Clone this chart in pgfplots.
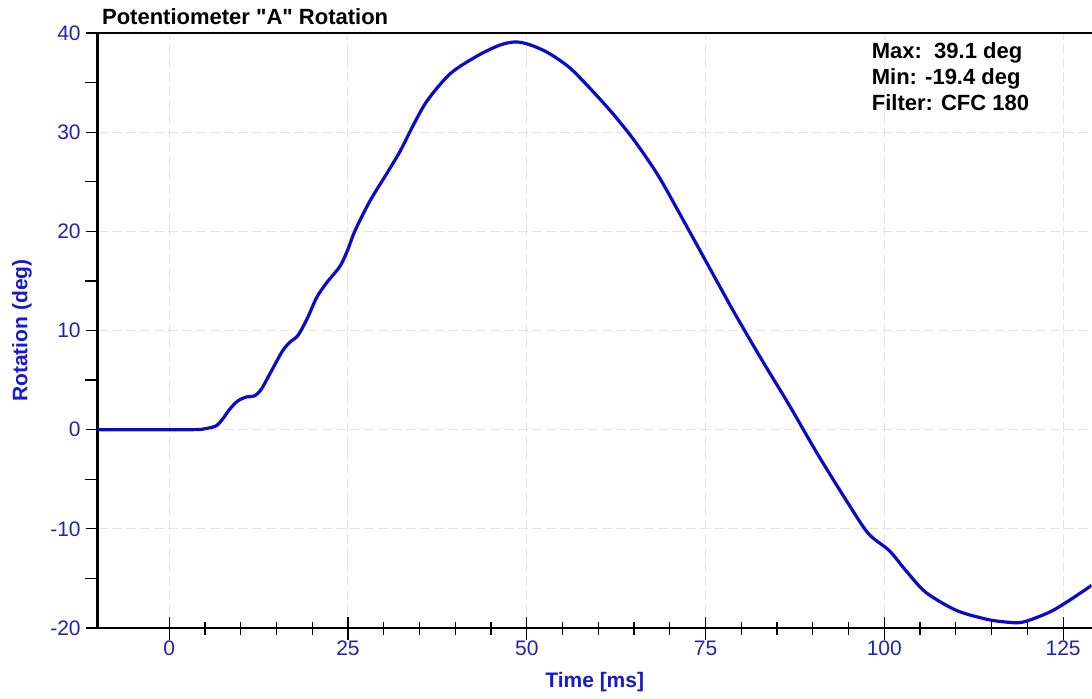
\documentclass[border=0pt]{standalone}
\usepackage{fontspec}
\setmainfont{Liberation Sans}
\usepackage{pgfplots}
\pgfplotsset{compat=1.18}

\definecolor{ticktxt}{RGB}{35,35,170}
\definecolor{labtxt}{RGB}{25,25,205}
\definecolor{curve}{RGB}{10,10,200}

\pgfplotsset{
  frame/.style={
    scale only axis,
    width=497pt,
    height=297.5pt,
    xmin=-10, xmax=129,
    ymin=-20, ymax=40,
  },
}

\begin{document}
\begin{tikzpicture}
  \path[use as bounding box] (-48.85pt,-35pt) rectangle (497.15pt,314pt);
  \begin{axis}[
      frame,
      axis x line*=box,
      axis y line*=left,
      axis line style={line width=1.3pt, black},
      xtick={0,25,...,125},
      ytick={-20,-10,...,40},
      minor x tick num=4,
      minor y tick num=1,
      xtick pos=bottom,
      ytick pos=left,
      xtick align=center,
      ytick align=outside,
      major tick length=6pt,
      minor tick length=6.5pt,
      tick style={black, line width=0.6pt},
      grid=major,
      grid style={black!10, dash pattern=on 5pt off 2pt, line width=0.5pt},
      /pgf/number format/assume math mode=true,
      tick label style={font=\fontsize{10.5}{12}\selectfont, text=ticktxt},
      xticklabel style={yshift=0pt},
      yticklabel style={xshift=1pt},
      every axis x label/.style={at={(axis description cs:0.5,-0.0992)}, anchor=base},
      every axis y label/.style={at={(axis description cs:-0.0762,0.5)}, rotate=90, anchor=center},
      xlabel={Time [ms]},
      ylabel={Rotation (deg)},
      label style={font=\bfseries\fontsize{10.5}{12}\selectfont, text=labtxt},
      title={Potentiometer \textquotedbl A\textquotedbl\ Rotation},
      every axis title shift=0pt,
      title style={at={(axis description cs:0,1)}, anchor=base west, inner sep=0pt, xshift=2pt, yshift=4.5pt, font=\bfseries\fontsize{11}{13}\selectfont},
    ]

    \addplot[color=curve, line width=1.6pt, line join=round, smooth, tension=0.5]
    coordinates {
        (-10,0) (3,0) (5,0.1) (6.6,0.4) (7.5,1.1) (8.5,2.1) (9.6,2.9)
        (10.8,3.3) (11.9,3.4) (12.9,4.1) (14.2,5.8) (15.9,8.0) (17,8.9)
        (18,9.5) (19.3,11.2) (20.6,13.3) (22,14.8) (23.9,16.5) (25,18.2)
        (26,20.1) (28.1,23.1) (30.4,25.8) (32.3,28.1) (34.2,30.8) (36.1,33.2)
        (39.3,35.9) (43.1,37.7) (46.3,38.8) (48.5,39.1) (50.5,38.8) (53,38.0)
        (56,36.5) (59,34.3) (62,31.9) (65.1,29.1) (68.4,25.6) (71.6,21.5)
        (75.8,16) (79.1,11.7) (82.9,7) (86.6,2.6) (90.7,-2.5) (95,-7.5)
        (97.8,-10.5) (100.7,-12.2) (103,-14.2) (105.8,-16.4) (110,-18.2)
        (114.2,-19.1) (117,-19.4) (119.4,-19.4) (123.1,-18.4) (125.9,-17.2)
        (129,-15.7)
      };

    \node[anchor=base west, inner sep=0pt, font=\bfseries\fontsize{11}{13}\selectfont] at (axis cs:98.2,37.4) {Max:\ \ 39.1 deg};
    \node[anchor=base west, inner sep=0pt, font=\bfseries\fontsize{11}{13}\selectfont] at (axis cs:98.2,34.8) {Min: -19.4 deg};
    \node[anchor=base west, inner sep=0pt, font=\bfseries\fontsize{11}{13}\selectfont] at (axis cs:98.2,32.2) {Filter: CFC 180};
  \end{axis}
  % longer major x ticks, crossing the bottom line
  \begin{axis}[
      frame,
      hide y axis,
      axis x line*=bottom,
      axis line style={draw=none},
      xtick={0,25,...,125},
      xticklabels={},
      xtick align=center,
      major tick length=11.5pt,
      tick style={black, line width=0.6pt},
    ]
    \addplot[draw=none] coordinates {(0,0)};
  \end{axis}
\end{tikzpicture}
\end{document}
